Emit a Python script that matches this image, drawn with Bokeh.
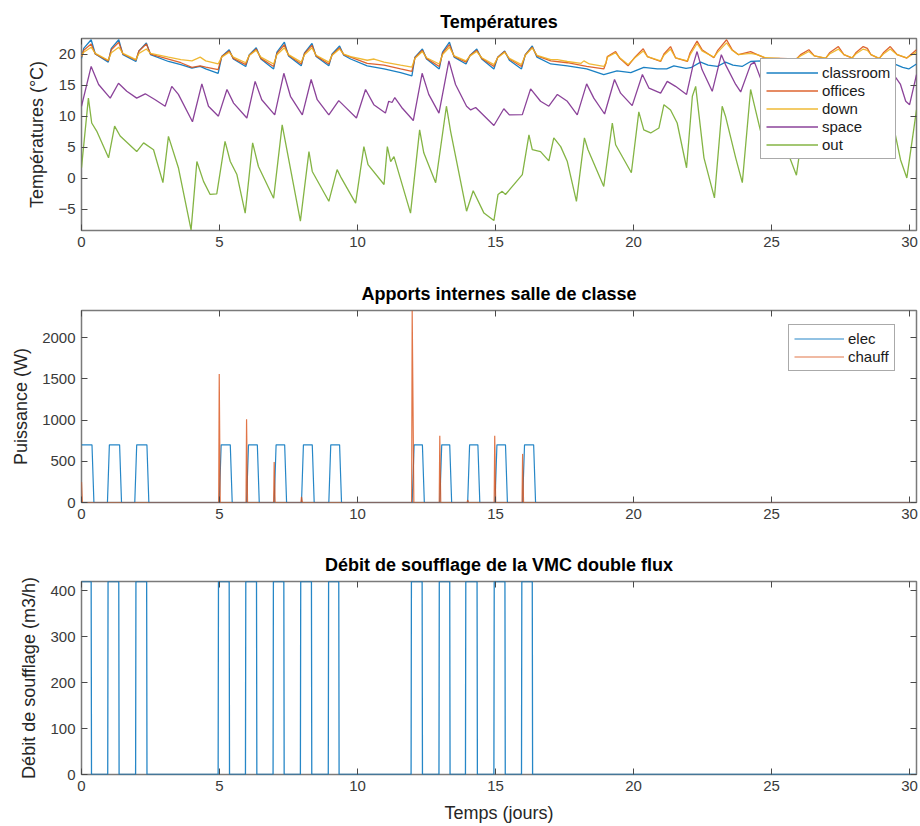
from bokeh.plotting import figure
from bokeh.layouts import column
from bokeh.models import (Range1d, LinearAxis, FixedTicker, Legend, LegendItem,
                          CustomJSTickFormatter)
from bokeh.embed import file_html
from bokeh.resources import INLINE

# ---------------- data ----------------
t_classroom = [0.00, 0.08, 0.35, 0.50, 0.97, 1.08, 1.35, 1.50, 1.97, 2.08, 2.35, 2.50, 3.15, 3.6, 4.0, 4.3, 4.5, 4.95,
               5.08, 5.35, 5.50, 5.95, 6.08, 6.33, 6.50, 6.96, 7.08, 7.35, 7.50, 7.96, 8.08, 8.35, 8.50, 8.96,
               9.08, 9.35, 9.50, 9.75, 10.35, 10.96, 11.56, 11.97, 12.08, 12.35, 12.50, 12.96, 13.08, 13.33, 13.50,
               13.93, 14.08, 14.32, 14.50, 14.94, 15.08, 15.33, 15.50, 15.94, 16.08, 16.33, 16.50, 17.0, 17.6,
               18.3, 18.92, 19.4, 19.9, 20.37, 20.86, 21.2, 21.46, 21.9, 22.07, 22.43, 22.7, 23.03, 23.33, 23.6,
               23.93, 24.24, 24.6, 25.3, 26.0, 26.4, 27.0, 27.4, 28.0, 28.4, 29.0, 29.4, 29.75, 29.97, 30.25]
classroom = [19.3, 20.9, 22.3, 20.0, 18.7, 20.9, 22.3, 19.9, 18.8, 20.5, 21.8, 19.9, 18.8, 18.3, 17.75, 18.0, 17.6, 16.9,
             19.6, 20.7, 19.2, 18.0, 19.9, 21.0, 19.2, 17.6, 20.3, 21.9, 19.7, 18.1, 20.2, 21.7, 19.6, 18.1,
             20.0, 21.3, 19.8, 19.2, 18.1, 17.6, 17.0, 16.5, 19.5, 20.8, 19.2, 17.6, 20.3, 21.9, 19.5,
             18.4, 19.8, 20.8, 19.2, 17.6, 19.5, 20.5, 19.0, 17.6, 19.9, 21.3, 19.5, 18.4, 18.1,
             17.6, 16.7, 17.3, 17.0, 17.85, 17.6, 17.6, 18.1, 17.7, 17.8, 18.7, 18.2, 18.0, 18.7, 18.2,
             18.0, 18.8, 18.9, 18.4, 18.2, 18.7, 18.3, 18.8, 18.2, 18.7, 18.1, 18.5, 17.85, 17.6, 18.4]

t_offices = [0.00, 0.08, 0.35, 0.50, 0.97, 1.08, 1.35, 1.50, 1.97, 2.08, 2.35, 2.50, 3.15, 3.6, 4.0, 4.3, 4.5, 4.95,
             5.08, 5.35, 5.50, 5.95, 6.08, 6.33, 6.50, 6.96, 7.08, 7.35, 7.50, 7.96, 8.08, 8.35, 8.50, 8.96,
             9.08, 9.35, 9.50, 9.75, 10.35, 10.96, 11.56, 11.97, 12.08, 12.35, 12.50, 12.96, 13.08, 13.33, 13.50,
             13.93, 14.08, 14.32, 14.50, 14.94, 15.08, 15.33, 15.50, 15.94, 16.08, 16.33, 16.50, 17.0, 17.6,
             18.3, 18.92, 19.0, 19.05, 19.35, 19.5, 19.8, 20.05, 20.35, 20.5, 20.98, 21.1, 21.34, 21.52, 21.95,
             22.05, 22.3, 22.48, 22.91, 23.05, 23.37, 23.57, 23.8, 24.24, 24.48, 24.78, 25.3, 25.9, 26.05, 26.35,
             26.55, 26.96, 27.1, 27.42, 27.62, 27.92, 28.05, 28.32, 28.47, 28.6, 28.9, 29.05, 29.3, 29.55, 29.9, 30.25]
offices = [19.5, 20.6, 21.6, 20.0, 18.9, 20.7, 21.9, 20.0, 19.0, 20.5, 21.6, 20.0, 19.2, 18.6, 17.85, 18.1, 17.9, 17.5,
           19.6, 20.5, 19.3, 18.3, 19.8, 20.8, 19.3, 18.0, 20.1, 21.5, 19.8, 18.4, 20.1, 21.4, 19.7, 18.4,
           19.9, 21.0, 19.9, 19.5, 18.5, 18.2, 17.6, 17.2, 19.4, 20.6, 19.3, 18.0, 20.1, 21.5, 19.6,
           18.7, 19.8, 20.6, 19.3, 18.0, 19.5, 20.4, 19.2, 18.0, 19.9, 21.1, 19.7, 18.9, 18.6,
           18.0, 17.6, 18.5, 19.6, 20.4, 19.3, 18.1, 19.5, 20.85, 19.6, 18.8, 20.0, 21.2, 19.4, 18.8,
           20.2, 22.1, 20.7, 19.4, 20.6, 22.3, 20.7, 19.9, 20.4, 19.9, 19.35, 19.3, 19.2, 19.9, 20.7,
           19.7, 19.3, 20.2, 21.2, 19.9, 19.35, 20.2, 21.2, 20.9, 19.9, 19.25, 20.2, 21.2, 19.9, 19.35, 20.7]

t_down = [0.00, 0.08, 0.35, 0.50, 0.97, 1.08, 1.35, 1.50, 1.97, 2.08, 2.35, 2.50, 3.15, 3.6, 4.0, 4.3, 4.5, 4.95,
          5.08, 5.35, 5.50, 5.95, 6.08, 6.33, 6.50, 6.96, 7.08, 7.35, 7.50, 7.96, 8.08, 8.35, 8.50, 8.96,
          9.08, 9.35, 9.50, 9.75, 10.35, 10.6, 10.96, 11.56, 11.97, 12.08, 12.35, 12.50, 12.96, 13.08, 13.33, 13.50,
          13.93, 14.08, 14.32, 14.50, 14.94, 15.08, 15.33, 15.50, 15.94, 16.08, 16.33, 16.50, 17.0, 17.24, 17.6,
          18.1, 18.2, 18.4, 18.92, 19.0, 19.05, 19.35, 19.5, 19.8, 20.05, 20.35, 20.5, 20.98, 21.1, 21.34, 21.52, 21.95,
          22.05, 22.3, 22.48, 22.91, 23.05, 23.37, 23.57, 23.8, 24.24, 24.48, 24.78, 25.3, 25.9, 26.05, 26.35,
          26.55, 26.96, 27.1, 27.42, 27.62, 27.92, 28.05, 28.32, 28.47, 28.6, 28.9, 29.05, 29.3, 29.55, 29.9, 30.25]
down = [19.7, 20.3, 21.1, 20.1, 19.0, 20.2, 21.1, 20.1, 19.1, 20.1, 20.8, 20.1, 19.5, 19.1, 18.9, 19.5, 18.9, 18.4,
        19.5, 20.3, 19.5, 18.6, 19.8, 20.6, 19.5, 18.4, 19.9, 21.0, 19.9, 18.7, 19.9, 21.0, 19.8, 18.7,
        19.8, 20.8, 20.0, 19.6, 19.0, 19.2, 18.7, 18.2, 17.9, 19.3, 20.4, 19.4, 18.4, 19.9, 21.1, 19.7,
        18.9, 19.7, 20.4, 19.4, 18.3, 19.4, 20.3, 19.3, 18.3, 19.8, 21.0, 19.8, 19.1, 19.1, 18.8,
        18.5, 18.9, 18.4, 18.0, 18.6, 19.5, 20.2, 19.4, 18.3, 19.4, 20.5, 19.6, 18.9, 19.8, 20.8, 19.4, 18.9,
        19.9, 21.7, 20.5, 19.5, 20.3, 21.8, 20.6, 19.9, 20.1, 19.9, 19.4, 19.3, 19.25, 19.7, 20.4,
        19.7, 19.35, 20.0, 20.8, 19.9, 19.4, 20.0, 20.8, 20.6, 19.9, 19.3, 20.0, 20.8, 19.9, 19.4, 20.3]

t_space = [0.00, 0.35, 0.62, 1.04, 1.34, 1.64, 2.0, 2.31, 2.67, 3.03, 3.27, 3.51, 4.02, 4.36, 4.6, 4.96, 5.27, 5.51,
           5.99, 6.29, 6.53, 7.0, 7.33, 7.57, 8.0, 8.32, 8.54, 8.96, 9.32, 9.55, 9.96, 10.29, 10.59, 11.01, 11.13,
           11.25, 11.35, 11.6, 12.02, 12.34, 12.58, 12.95, 13.31, 13.55, 13.95, 14.1, 14.28, 14.94, 15.3, 15.5,
           15.97, 16.27, 16.63, 16.93, 17.24, 17.6, 17.96, 18.3, 18.56, 18.95, 19.31, 19.53, 19.95, 20.32, 20.56,
           20.98, 21.22, 21.52, 21.92, 22.16, 22.3, 22.48, 22.85, 23.18, 23.33, 23.7, 23.88, 24.24, 24.38, 24.6,
           25.0, 25.3, 25.7, 26.0, 26.3, 26.7, 27.0, 27.3, 27.7, 28.0, 28.3, 28.7, 29.0, 29.3, 29.67, 29.86, 30.0, 30.25]
space = [11.6, 18.0, 15.1, 12.9, 15.3, 14.0, 12.9, 13.6, 12.65, 11.6, 14.8, 13.5, 9.1, 15.2, 11.6, 10.0, 14.3, 12.1,
         9.7, 15.6, 12.65, 10.2, 16.9, 13.2, 10.2, 15.9, 12.65, 10.2, 12.5, 11.5, 9.7, 14.3, 11.85, 10.5, 12.4,
         12.2, 13.0, 11.4, 9.3, 16.9, 13.5, 10.5, 18.9, 15.1, 11.6, 11.0, 11.4, 8.5, 11.2, 10.2,
         10.25, 14.4, 12.4, 11.6, 13.5, 12.4, 10.2, 15.2, 12.9, 10.35, 15.9, 13.7, 11.7, 16.7, 14.5,
         13.7, 15.6, 14.8, 13.5, 18.3, 20.4, 17.5, 14.0, 19.9, 18.3, 15.1, 13.9, 18.3, 18.7, 16.1,
         14.5, 17.5, 14.8, 14.0, 18.0, 15.0, 14.0, 18.0, 15.0, 13.8, 17.8, 14.8, 13.5, 17.5, 15.1, 12.4, 11.85, 16.7]

t_out = [0.00, 0.25, 0.37, 0.55, 0.98, 1.20, 1.40, 2.0, 2.25, 2.61, 2.95, 3.15, 3.51, 3.97, 4.18, 4.42, 4.66, 4.9,
         5.2, 5.39, 5.63, 5.93, 6.2, 6.41, 6.96, 7.27, 7.93, 8.24, 8.36, 8.96, 9.26, 9.41, 9.93, 10.23, 10.38,
         10.96, 11.08, 11.2, 11.32, 11.92, 12.25, 12.4, 12.83, 13.22, 13.37, 13.95, 14.19, 14.58, 14.94, 15.09,
         15.24, 15.36, 15.97, 16.21, 16.33, 16.63, 16.93, 17.11, 17.36, 17.6, 17.93, 18.22, 18.35, 18.92, 19.23,
         19.35, 19.92, 20.19, 20.37, 20.62, 20.92, 21.1, 21.34, 21.58, 21.92, 22.13, 22.25, 22.55, 22.93, 23.21,
         23.33, 23.7, 23.94, 24.24, 24.6, 25.0, 25.3, 25.6, 25.9, 26.2, 26.6, 26.95, 27.25, 27.6, 27.95, 28.25,
         28.6, 28.95, 29.25, 29.67, 29.9, 30.25]
out = [1.7, 12.9, 8.9, 7.6, 3.3, 8.4, 6.8, 4.3, 5.7, 4.6, -0.7, 6.75, 1.7, -8.3, 2.7, -0.5, -2.6, -2.5,
       5.95, 2.7, 0.6, -5.6, 5.7, 1.9, -3.2, 8.6, -6.9, 4.3, 1.1, -3.7, 1.4, 0.06, -4.0, 5.1, 2.2,
       -1.0, 5.1, 2.7, 3.5, -5.6, 7.8, 4.1, -0.7, 11.6, 7.6, -5.3, -2.0, -5.6, -6.8, -2.6,
       -2.1, -2.6, 0.6, 7.0, 4.6, 4.3, 2.8, 6.5, 5.1, 2.7, -3.7, 6.5, 4.6, -1.3, 8.9,
       5.4, 0.9, 10.7, 7.8, 7.3, 8.1, 11.85, 11.0, 8.9, 1.7, 13.2, 14.8, 3.3, -3.15, 11.6,
       10.0, 3.3, -0.7, 14.3, 7.6, 4.0, 8.0, 4.0, 0.5, 10.0, 6.0, 4.5, 12.0, 7.0, 4.2, 11.0,
       7.0, 4.5, 12.0, 3.0, 0.06, 11.0]

temp_names = ["classroom", "offices", "down", "space", "out"]
temp_ticks = [-5, 0, 5, 10, 15, 20]

# internal gains (classroom)
elec_on = [0.0, 0.94, 1.93, 4.99, 5.98, 6.98, 7.97, 8.96, 11.98, 12.98, 13.99, 14.98, 15.98]
elec_off = [0.45, 1.45, 2.44, 5.46, 6.44, 7.43, 8.43, 9.42, 12.42, 13.41, 14.43, 15.43, 16.45]
elec_power = 700
chauff_t = [0.0, 4.99, 5.98, 6.98, 7.97, 11.98, 12.98, 13.99, 14.97, 15.98]
chauff_peak = [250, 1560, 1010, 490, 70, 2330, 810, 30, 810, 590]
power_ticks = [0, 500, 1000, 1500, 2000]

# supply air flow
vmc_on = [0.0, 0.95, 1.96, 4.95, 5.94, 6.94, 7.93, 8.94, 11.94, 12.95, 13.91, 14.94, 15.94]
vmc_off = [0.35, 1.35, 2.36, 5.35, 6.34, 7.33, 8.33, 9.32, 12.34, 13.34, 14.33, 15.34, 16.33]
vmc_flow = 420
flow_ticks = [0, 100, 200, 300, 400]

x_ticks = [0, 5, 10, 15, 20, 25, 30]
T_END = 30.25

# ---------------- styling ----------------
FONT = "Liberation Sans"
AXC = "#4a4a4a"
C_BLUE, C_RED, C_YEL, C_PUR, C_GRN = "#0072BD", "#D95319", "#EDB120", "#7E2F8E", "#77AC30"


def make_fig(height, ymin, ymax, yticks, title, ylabel, top, bottom, xlabel=None):
    p = figure(width=920, height=height, x_range=Range1d(0, T_END), y_range=Range1d(ymin, ymax),
               output_backend="svg", toolbar_location=None, title=title,
               min_border_left=81, min_border_right=4, min_border_top=top,
               min_border_bottom=bottom)
    p.title.align = "center"
    p.title.text_font = FONT
    p.title.text_font_size = "18px"
    p.title.text_font_style = "bold"
    p.title.text_color = "#000000"
    p.title.standoff = 13
    p.xgrid.visible = False
    p.ygrid.visible = False
    p.outline_line_color = "#7a7a7a"
    p.outline_line_width = 1.5
    p.background_fill_color = "white"
    p.border_fill_color = "white"
    for ax, tk in ((p.xaxis[0], x_ticks), (p.yaxis[0], yticks)):
        ax.ticker = FixedTicker(ticks=tk)
        ax.major_tick_in = 6
        ax.major_tick_out = 0
        ax.minor_tick_line_color = None
        ax.major_tick_line_color = AXC
        ax.axis_line_color = None
        ax.major_label_text_font = FONT
        ax.major_label_text_font_size = "15px"
        ax.major_label_text_color = "#3a3a3a"
        ax.major_label_standoff = 6
        ax.axis_label_text_font = FONT
        ax.axis_label_text_font_size = "18px"
        ax.axis_label_text_font_style = "normal"
        ax.axis_label_text_color = "#262626"
        ax.axis_label_standoff = 8
    p.yaxis[0].axis_label = ylabel
    if xlabel:
        p.xaxis[0].axis_label = xlabel
        p.xaxis[0].axis_label_standoff = 9
    # mirrored ticks on top and right
    for place, tk in (("above", x_ticks), ("right", yticks)):
        mx = LinearAxis(ticker=FixedTicker(ticks=tk),
                        formatter=CustomJSTickFormatter(code="return ''"),
                        major_tick_in=6, major_tick_out=0, minor_tick_line_color=None,
                        major_tick_line_color=AXC, axis_line_color=None,
                        major_label_standoff=0, major_label_text_font_size="1px")
        p.add_layout(mx, place)
    return p


def legend_style(lg):
    lg.label_text_font = FONT
    lg.label_text_font_size = "15px"
    lg.label_text_color = "#1a1a1a"
    lg.glyph_width = 52
    lg.glyph_height = 15
    lg.label_height = 15
    lg.label_standoff = 4
    lg.padding = 5
    lg.spacing = 1
    lg.margin = 0
    lg.border_line_color = "#555555"
    lg.border_line_width = 1.5
    lg.background_fill_alpha = 1.0


# ---------------- top: temperatures ----------------
p1 = make_fig(270, -8.4, 22.5, temp_ticks, "Températures", "Températures (°C)", 38, 40)
series = [(t_classroom, classroom, C_BLUE), (t_offices, offices, C_RED), (t_down, down, C_YEL),
          (t_space, space, C_PUR), (t_out, out, C_GRN)]
rends = []
for (tx, ty, col) in series:
    rends.append(p1.line(tx, ty, line_color=col, line_width=1.3, line_alpha=0.9))
lg1 = Legend(items=[LegendItem(label=n, renderers=[r]) for n, r in zip(temp_names, rends)],
             location=(679, 71))
legend_style(lg1)
p1.add_layout(lg1)

# ---------------- middle: internal gains ----------------
p2 = make_fig(271, 0, 2330, power_ticks, "Apports internes salle de classe", "Puissance (W)", 40, 39)
ramp = 0.07
ex, ey = [], []
for a, b in zip(elec_on, elec_off):
    if a <= 0:
        ex += [0.0]
        ey += [elec_power]
    else:
        ex += [a, a + ramp]
        ey += [0, elec_power]
    ex += [b - ramp, b]
    ey += [elec_power, 0]
ex.append(T_END)
ey.append(0)
r_e = p2.line(ex, ey, line_color=C_BLUE, line_width=1.2, line_alpha=0.85)
cx, cy = [], []
for tc, pk in zip(chauff_t, chauff_peak):
    if tc <= 0:
        cx += [0.0, 0.03]
        cy += [pk, 0]
    else:
        w = 0.06 if pk > 2000 else 0.035
        cx += [tc - 0.02, tc, tc + w]
        cy += [0, pk, 0]
cx.append(T_END)
cy.append(0)
r_c = p2.line(cx, cy, line_color=C_RED, line_width=1.2, line_alpha=0.8)
lg2 = Legend(items=[LegendItem(label="elec", renderers=[r_e]), LegendItem(label="chauff", renderers=[r_c])],
             location=(707, 131))
legend_style(lg2)
lg2.glyph_width = 50
p2.add_layout(lg2)

# ---------------- bottom: supply air flow ----------------
p3 = make_fig(285, 0, 420, flow_ticks, "Débit de soufflage de la VMC double flux",
              "Débit de soufflage (m3/h)", 40, 52, xlabel="Temps (jours)")
vx, vy = [], []
for a, b in zip(vmc_on, vmc_off):
    if a <= 0:
        vx += [0.0]
        vy += [vmc_flow]
    else:
        vx += [a, a + 0.012]
        vy += [0, vmc_flow]
    vx += [b, b + 0.012]
    vy += [vmc_flow, 0]
vx.append(T_END)
vy.append(0)
p3.line(vx, vy, line_color=C_BLUE, line_width=1.3, line_alpha=0.85)

layout = column(p1, p2, p3, spacing=0)
open("out.html", "w").write(file_html(layout, INLINE))
